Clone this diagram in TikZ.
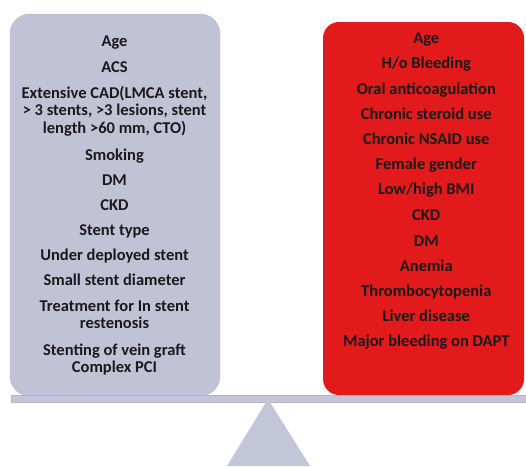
\documentclass[tikz,border=0pt]{standalone}
\usepackage{fontspec}
\setmainfont{Carlito}
\definecolor{lav}{HTML}{C1C2D6}
\definecolor{lavedge}{HTML}{B3B5CA}
\definecolor{beamc}{HTML}{C3C5D8}
\definecolor{redbox}{HTML}{E31A1C}
\definecolor{txt}{HTML}{1A1A1A}
\begin{document}
\begin{tikzpicture}[x=1pt,y=-1pt,
  item/.style={anchor=base,font=\bfseries\fontsize{16.5}{17.5}\selectfont,text=txt,inner sep=0pt,align=center}]
\useasboundingbox (0,0) rectangle (526,466);
% panels
\path[fill=lav,draw=lavedge,line width=0.4pt,rounded corners=20] (10,14) rectangle (220,396);
\path[fill=redbox,rounded corners=16] (323,22) rectangle (524,395);
% beam and fulcrum
\path[fill=beamc,draw=lavedge,line width=0.4pt] (11,395) rectangle (526,402);
\path[fill=beamc] (268,399) -- (310,466) -- (227,466) -- cycle;
% left texts (multi-line nodes: base = last line)
\node[item] (l1) at (114.5,46.7) {Age};
\node[item] (l2) at (114.5,72.5) {ACS};
\node[item] (l3) at (114.5,133) {Extensive CAD(LMCA stent,\\ \textgreater{} 3 stents, \textgreater3 lesions, stent\\ length \textgreater60 mm, CTO)};
\node[item] (l4) at (114.5,160) {Smoking};
\node[item] (l5) at (114.5,185) {DM};
\node[item] (l6) at (114.5,210.3) {CKD};
\node[item] (l7) at (114.5,235.5) {Stent type};
\node[item] (l8) at (114.5,260.5) {Under deployed stent};
\node[item] (l9) at (114.5,285.7) {Small stent diameter};
\node[item] (l10) at (114.5,328.5) {Treatment for In stent\\ restenosis};
\node[item] (l11) at (114.5,372.7) {Stenting of vein graft\\ Complex PCI};
% right texts
\node[item] (r1) at (426.3,43.3) {Age};
\node[item] (r2) at (426.3,68.8) {H/o Bleeding};
\node[item] (r3) at (426.3,94) {Oral anticoagulation};
\node[item] (r4) at (426.3,119.2) {Chronic steroid use};
\node[item] (r5) at (426.3,144.4) {Chronic NSAID use};
\node[item] (r6) at (426.3,169.6) {Female gender};
\node[item] (r7) at (426.3,194.8) {Low/high BMI};
\node[item] (r8) at (426.3,220.6) {CKD};
\node[item] (r9) at (426.3,246) {DM};
\node[item] (r10) at (426.3,271) {Anemia};
\node[item] (r11) at (426.3,296.5) {Thrombocytopenia};
\node[item] (r12) at (426.3,321.7) {Liver disease};
\node[item] (r13) at (426.3,346.7) {Major bleeding on DAPT};
\end{tikzpicture}
\end{document}
